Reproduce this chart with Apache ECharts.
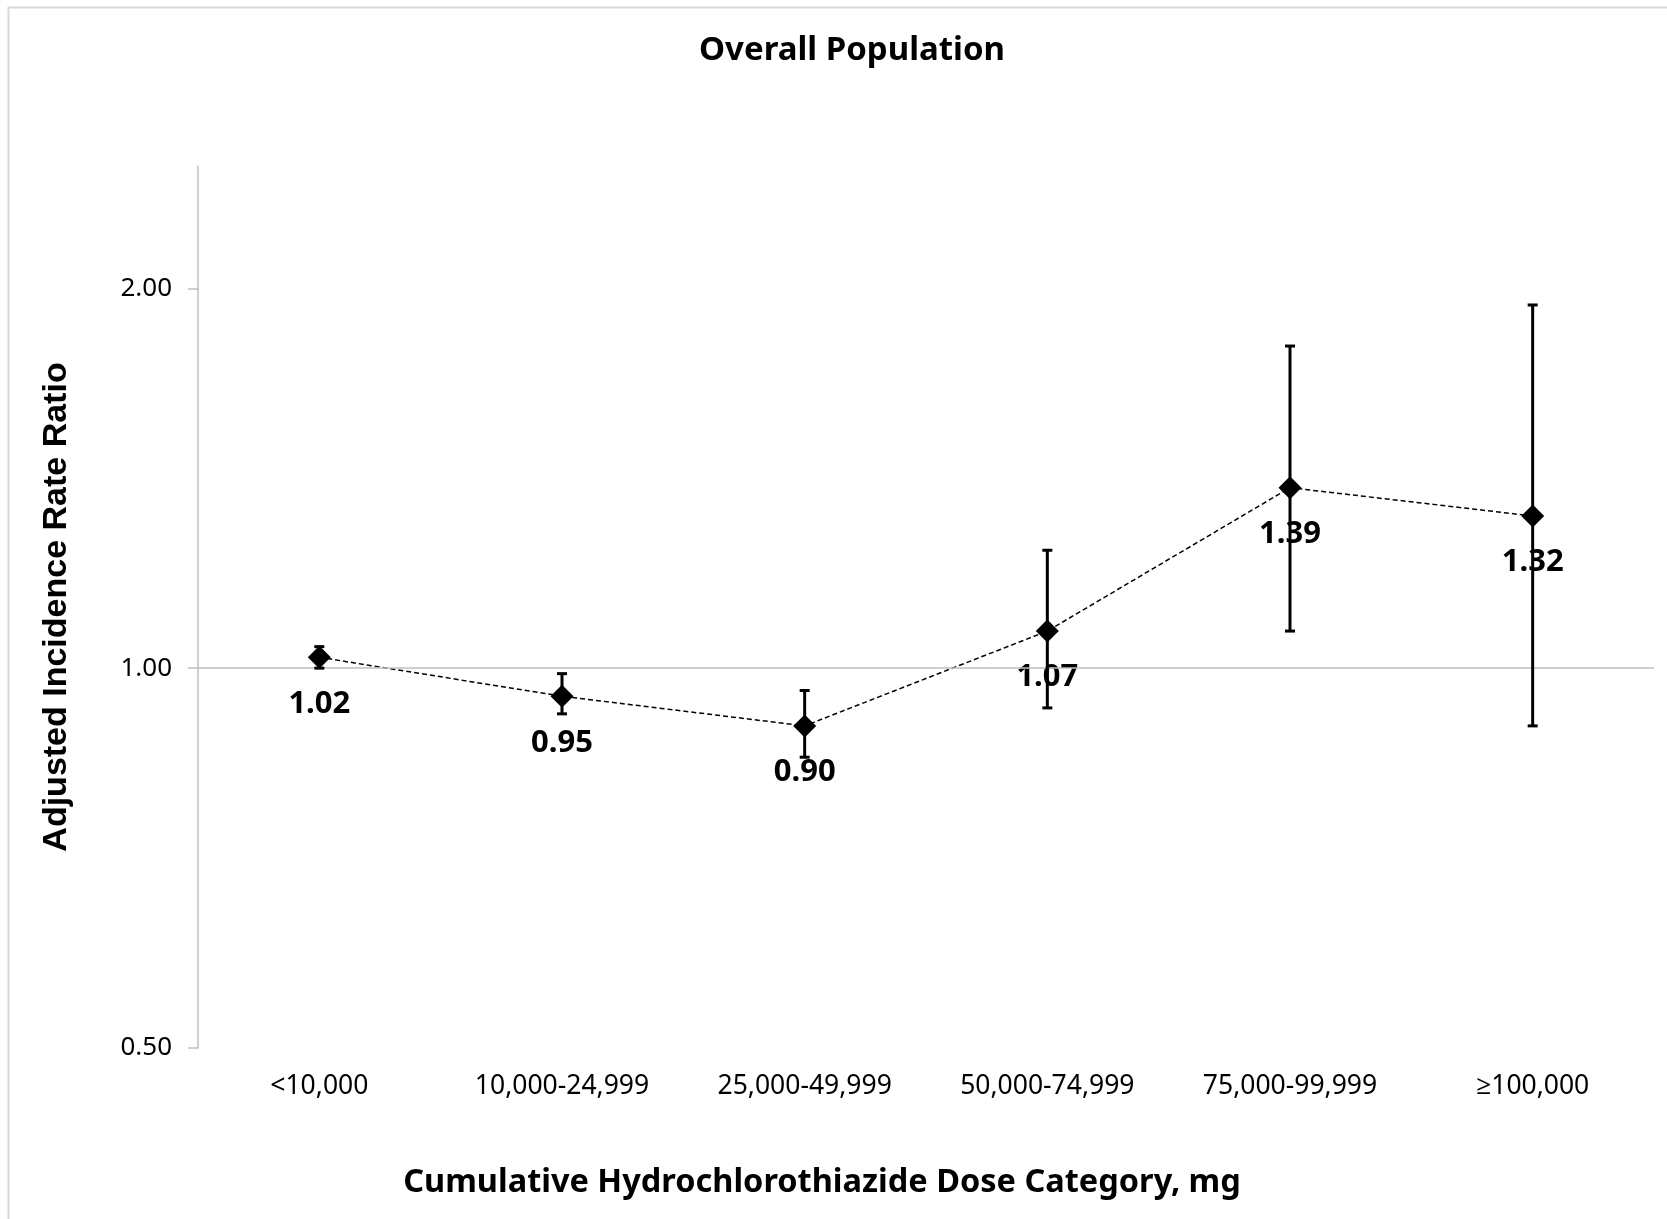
<!DOCTYPE html>
<html>
<head>
<meta charset="utf-8">
<script src="https://cdn.jsdelivr.net/npm/echarts@6/dist/echarts.min.js"></script>
<style>
html,body{margin:0;padding:0;background:#fff;}
#chart{width:1667px;height:1219px;}
</style>
</head>
<body>
<div id="chart"></div>
<script>
const categories = ['<10,000', '10,000-24,999', '25,000-49,999', '50,000-74,999', '75,000-99,999', '\u2265100,000'];
const irr = [1.02, 0.95, 0.90, 1.07, 1.39, 1.32];
const ciLow = [1.00, 0.92, 0.85, 0.93, 1.07, 0.90];
const ciHigh = [1.04, 0.99, 0.96, 1.24, 1.80, 1.94];
const yTicks = [0.5, 1, 2];

const chart = echarts.init(document.getElementById('chart'));
const errData = categories.map((c, i) => [i, ciLow[i], ciHigh[i]]);
const FONT = '"Noto Sans", "Open Sans", sans-serif';

chart.setOption({
  backgroundColor: '#ffffff',
  animation: false,
  title: [
    { text: 'Overall Population', left: 847, top: 29, textAlign: 'center',
      textStyle: { fontFamily: FONT, fontWeight: 'bold', fontSize: 33, color: '#000' } },
    { text: 'Cumulative Hydrochlorothiazide Dose Category, mg', left: 817, top: 1161, textAlign: 'center',
      textStyle: { fontFamily: FONT, fontWeight: 'bold', fontSize: 32.5, color: '#000' } }
  ],
  graphic: [
    { type: 'polyline', shape: { points: [[8.5, 1219], [8.5, 7.5], [1667, 7.5]] },
      style: { stroke: '#d9d9d9', lineWidth: 2, fill: null } }
  ],
  grid: { left: 198, right: 13, top: 166, bottom: 171 },
  xAxis: {
    type: 'category',
    data: categories,
    boundaryGap: true,
    axisLine: { show: false },
    axisTick: { show: false },
    splitLine: { show: false },
    axisLabel: { margin: 25, fontFamily: FONT, fontSize: 26.5, color: '#000', interval: 0 }
  },
  yAxis: {
    type: 'log',
    logBase: 2,
    min: 0.5,
    max: 2.5,
    name: 'Adjusted Incidence Rate Ratio',
    nameLocation: 'middle',
    nameRotate: 90,
    nameGap: 124,
    nameTextStyle: { fontFamily: '"Liberation Sans", Arial, sans-serif', fontWeight: 'bold', fontSize: 34, color: '#000' },
    axisLine: { show: true, lineStyle: { color: '#bfbfbf', width: 1.5 } },
    axisTick: { show: true, length: 10, lineStyle: { color: '#bfbfbf', width: 1.5 }, customValues: yTicks },
    splitLine: { show: false },
    axisLabel: { margin: 26, fontFamily: FONT, fontSize: 26, color: '#000',
      customValues: yTicks, formatter: v => Number(v).toFixed(2) }
  },
  series: [
    {
      type: 'line',
      data: irr,
      z: 2,
      symbol: 'diamond',
      symbolSize: 23,
      itemStyle: { color: '#000' },
      lineStyle: { color: '#000', width: 1.5, type: [5, 3] },
      label: {
        show: true, position: 'bottom', distance: 19.5,
        fontFamily: FONT, fontWeight: 'bold', fontSize: 31, lineHeight: 31, color: '#000',
        formatter: p => p.value.toFixed(2)
      },
      markLine: {
        silent: true, symbol: ['none', 'none'], label: { show: false },
        lineStyle: { color: '#bfbfbf', width: 1.5, type: 'solid' },
        data: [{ yAxis: 1 }]
      }
    },
    {
      type: 'custom',
      z: 5,
      data: errData,
      renderItem: function (params, api) {
        const x = api.value(0);
        const lo = api.coord([x, api.value(1)]);
        const hi = api.coord([x, api.value(2)]);
        const w = 5;
        const st = { stroke: '#000', lineWidth: 3 };
        return {
          type: 'group',
          children: [
            { type: 'line', shape: { x1: lo[0], y1: lo[1], x2: hi[0], y2: hi[1] }, style: st },
            { type: 'line', shape: { x1: lo[0] - w, y1: lo[1], x2: lo[0] + w, y2: lo[1] }, style: st },
            { type: 'line', shape: { x1: hi[0] - w, y1: hi[1], x2: hi[0] + w, y2: hi[1] }, style: st }
          ]
        };
      }
    }
  ]
});
</script>
</body>
</html>
